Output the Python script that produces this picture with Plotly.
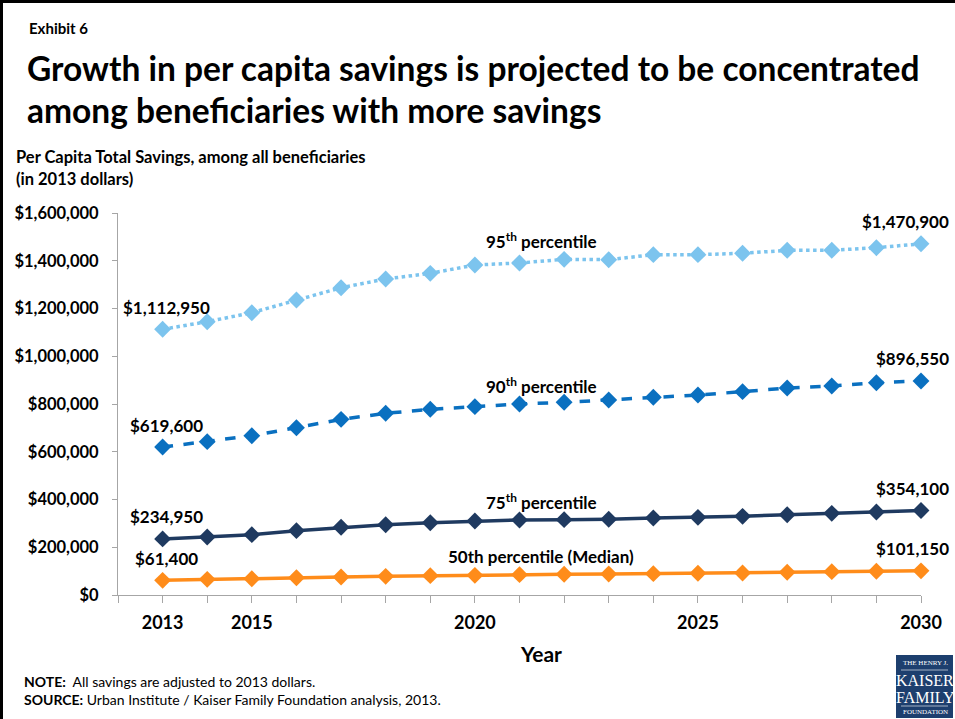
import plotly.graph_objects as go

years = list(range(2013, 2031))
p95 = [1112950, 1144800, 1182400, 1235600, 1287200, 1323600, 1347300, 1382200, 1390600,
       1405900, 1404500, 1425500, 1425500, 1431100, 1443700, 1443700, 1454700, 1470900]
p90 = [619600, 642200, 667300, 700800, 735800, 761000, 777800, 788900, 800000,
       807100, 816800, 828000, 837700, 851700, 867000, 875400, 889200, 896550]
p75 = [234950, 242900, 252700, 269500, 283500, 294500, 302800, 309900, 314100,
       315500, 317000, 322500, 325300, 329500, 336400, 342000, 347600, 354100]
p50 = [61400, 65600, 68200, 72500, 75400, 78200, 81000, 82400, 85200,
       86600, 88000, 89400, 90800, 92200, 95000, 97800, 99200, 101150]

series_names = ["95<sup>th</sup> percentile", "90<sup>th</sup> percentile",
                "75<sup>th</sup> percentile", "50th percentile (Median)"]
x_tick_vals = [2013, 2015, 2020, 2025, 2030]
x_tick_labels = ["2013", "2015", "2020", "2025", "2030"]
y_ticks = [0, 200000, 400000, 600000, 800000, 1000000, 1200000, 1400000, 1600000]
y_labels = ["$0", "$200,000", "$400,000", "$600,000", "$800,000", "$1,000,000",
            "$1,200,000", "$1,400,000", "$1,600,000"]

W, H = 955, 719
L, R, T, B = 118, 34, 213, 124
PW, PH = W - L - R, H - T - B


def px(x):
    return (x - L) / PW


def py(y):
    return (H - B - y) / PH


FONT = "Lato"
fig = go.Figure()

styles = [
    (p95, "#7cc4ee", "dot"),
    (p90, "#0a70c0", "dash"),
    (p75, "#1f3a60", "solid"),
    (p50, "#ff8c1a", "solid"),
]
for (vals, col, dash), name in zip(styles, series_names):
    fig.add_trace(go.Scatter(
        x=years, y=vals, mode="lines+markers", name=name,
        line=dict(color=col, width=3.5, dash=dash),
        marker=dict(symbol="diamond", size=13, color=col),
        showlegend=False, cliponaxis=False))

ann = []


def fmt(v):
    return "${:,}".format(v)


label_font = dict(family=FONT, size=17, color="#000000")
for vals in [p95, p90, p75, p50]:
    ann.append(dict(x=years[0], y=vals[0], xref="x", yref="y", text="<b>" + fmt(vals[0]) + "</b>",
                    showarrow=False, yshift=22, xshift=4, xanchor="center", yanchor="middle",
                    font=label_font))
    ann.append(dict(x=years[-1], y=vals[-1], xref="x", yref="y", text="<b>" + fmt(vals[-1]) + "</b>",
                    showarrow=False, yshift=22, xshift=30, xanchor="right", yanchor="middle",
                    font=label_font))

for name, (xx, yy) in zip(series_names, [(541, 240), (541, 385), (541, 501), (541, 556)]):
    ann.append(dict(x=px(xx), y=py(yy), xref="paper", yref="paper", text="<b>" + name + "</b>",
                    xanchor="center", yanchor="middle", showarrow=False, font=label_font))

ann += [
    dict(x=px(27), y=py(28), xref="paper", yref="paper", xanchor="left", yanchor="middle",
         text="<b>Exhibit 6</b>", showarrow=False, font=dict(family=FONT, size=15, color="#000")),
    dict(x=px(25), y=py(68), xref="paper", yref="paper", xanchor="left", yanchor="middle",
         text="<b>Growth in per capita savings is projected to be concentrated</b>",
         showarrow=False, font=dict(family=FONT, size=33.5, color="#000")),
    dict(x=px(25), y=py(110), xref="paper", yref="paper", xanchor="left", yanchor="middle",
         text="<b>among beneficiaries with more savings</b>",
         showarrow=False, font=dict(family=FONT, size=33.5, color="#000")),
    dict(x=px(14), y=py(157), xref="paper", yref="paper", xanchor="left", yanchor="middle",
         text="<b>Per Capita Total Savings, among all beneficiaries</b>",
         showarrow=False, font=dict(family=FONT, size=16.5, color="#000")),
    dict(x=px(14), y=py(179), xref="paper", yref="paper", xanchor="left", yanchor="middle",
         text="<b>(in 2013 dollars)</b>",
         showarrow=False, font=dict(family=FONT, size=16.5, color="#000")),
    dict(x=px(541), y=py(653), xref="paper", yref="paper", xanchor="center", yanchor="middle",
         text="<b>Year</b>", showarrow=False, font=dict(family=FONT, size=21, color="#000")),
    dict(x=px(22), y=py(681), xref="paper", yref="paper", xanchor="left", yanchor="middle",
         text="<b>NOTE:</b>  All savings are adjusted to 2013 dollars.",
         showarrow=False, font=dict(family=FONT, size=14, color="#000")),
    dict(x=px(22), y=py(699), xref="paper", yref="paper", xanchor="left", yanchor="middle",
         text="<b>SOURCE:</b> Urban Institute / Kaiser Family Foundation analysis, 2013.",
         showarrow=False, font=dict(family=FONT, size=14, color="#000")),
]

logo_font = "Liberation Serif"
for txt, yy, sz in [("THE HENRY J.", 663, 7), ("KAISER", 680, 16), ("FAMILY", 697, 16),
                    ("FOUNDATION", 712, 7)]:
    ann.append(dict(x=px(925), y=py(yy), xref="paper", yref="paper", xanchor="center",
                    yanchor="middle", text=txt, showarrow=False,
                    font=dict(family=logo_font, size=sz, color="#ffffff")))

shapes = [
    dict(type="line", xref="paper", yref="paper", x0=px(1.5), x1=px(1.5), y0=py(H), y1=py(0),
         line=dict(color="#000000", width=3), layer="above"),
    dict(type="line", xref="paper", yref="paper", x0=px(0), x1=px(W), y0=py(1.5), y1=py(1.5),
         line=dict(color="#000000", width=3), layer="above"),
    dict(type="rect", xref="paper", yref="paper", x0=px(896), x1=px(953), y0=py(718), y1=py(655),
         fillcolor="#1d3f6e", line=dict(width=0), layer="above"),
    dict(type="line", xref="paper", yref="paper", x0=px(901), x1=px(948), y0=py(670), y1=py(670),
         line=dict(color="#ffffff", width=0.6), layer="above"),
    dict(type="line", xref="paper", yref="paper", x0=px(901), x1=px(948), y0=py(706), y1=py(706),
         line=dict(color="#ffffff", width=0.6), layer="above"),
]

fig.update_layout(
    width=W, height=H,
    margin=dict(l=L, r=R, t=T, b=B, autoexpand=False),
    paper_bgcolor="#ffffff", plot_bgcolor="#ffffff",
    annotations=ann, shapes=shapes,
    xaxis=dict(range=[2012, 2030], tickmode="array", tickvals=x_tick_vals,
               ticktext=["<b>%s</b>" % t for t in x_tick_labels],
               showgrid=False, zeroline=False, showline=True, linecolor="#a6a6a6", linewidth=1,
               ticks="outside", ticklen=7, tickcolor="#a6a6a6",
               minor=dict(tick0=2012, dtick=1, ticks="outside", ticklen=7, tickcolor="#a6a6a6",
                          showgrid=False),
               tickfont=dict(family=FONT, size=18, color="#000"), ticklabelstandoff=4),
    yaxis=dict(range=[0, 1600000], tickmode="array", tickvals=y_ticks,
               ticktext=["<b>%s</b>" % t for t in y_labels],
               showgrid=False, zeroline=False, showline=True, linecolor="#a6a6a6", linewidth=1,
               ticks="outside", ticklen=5, tickcolor="#a6a6a6",
               tickfont=dict(family=FONT, size=16.5, color="#000"), ticklabelstandoff=10),
)
fig.write_html("out.html", config={"displayModeBar": False},
               post_script="document.body.style.margin='0';document.body.style.overflow='hidden';")
